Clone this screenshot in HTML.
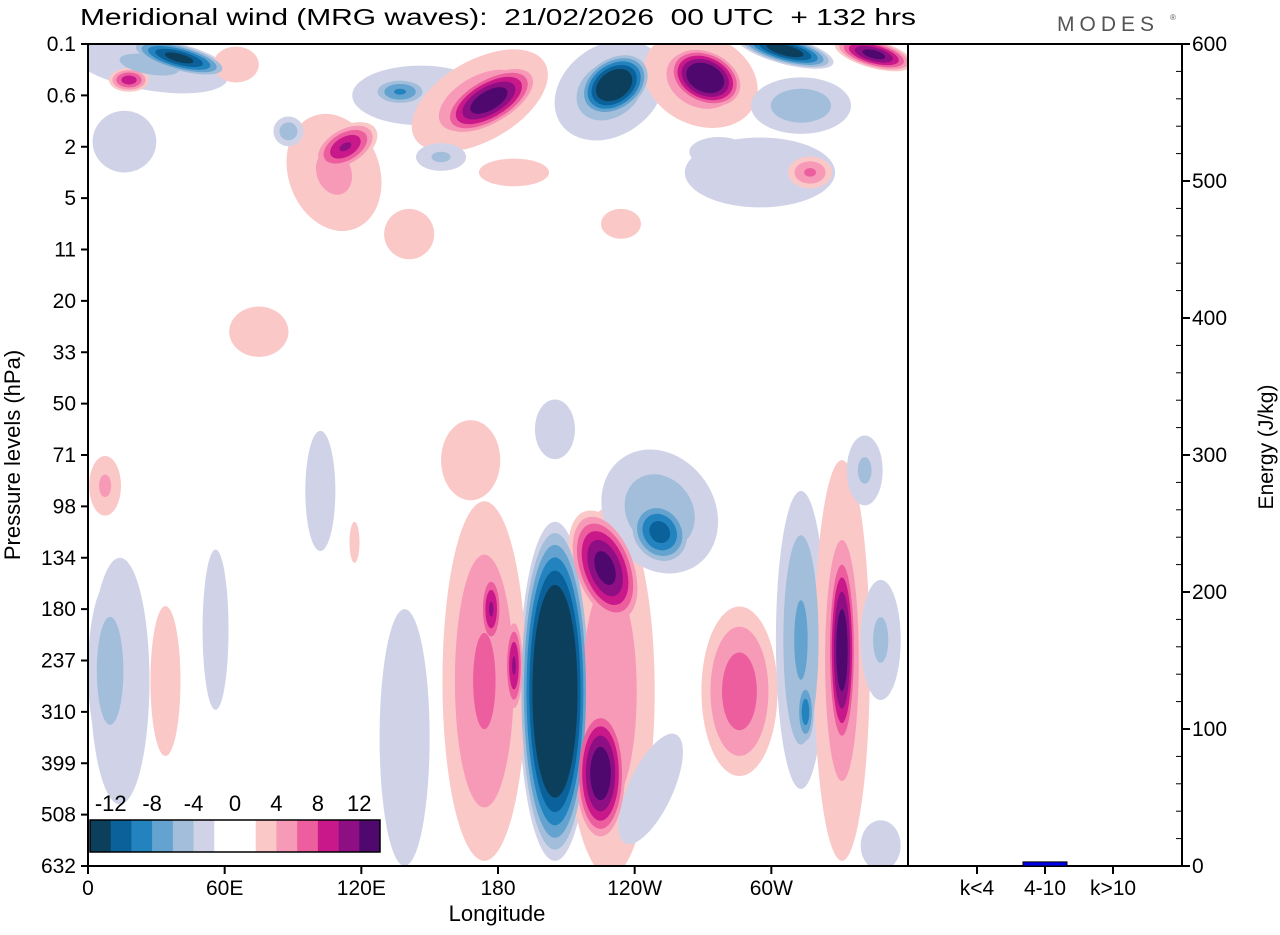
<!DOCTYPE html>
<html><head><meta charset="utf-8"><style>
body{margin:0;background:#fff;}
svg text{font-family:"Liberation Sans",sans-serif;fill:#000;}
</style></head><body>
<svg id="chart" width="1280" height="930" viewBox="0 0 1280 930" xmlns="http://www.w3.org/2000/svg">
<defs><clipPath id="pc"><rect x="88" y="44" width="820" height="822"/></clipPath></defs>
<text x="80" y="25" font-size="23" textLength="836" lengthAdjust="spacingAndGlyphs" style="white-space:pre">Meridional wind (MRG waves):  21/02/2026  00 UTC  + 132 hrs</text>
<text x="1057" y="31" font-size="21" letter-spacing="5" style="fill:#555">MODES</text>
<text x="1170" y="20" font-size="8" style="fill:#555">®</text>
<g id="field" clip-path="url(#pc)"></g>
<g id="axes"></g>
<text transform="translate(20,455) rotate(-90)" text-anchor="middle" font-size="22">Pressure levels (hPa)</text>
<text x="497" y="921" text-anchor="middle" font-size="22">Longitude</text>
<text transform="translate(1273,447) rotate(-90)" text-anchor="middle" font-size="21">Energy (J/kg)</text>
</svg>
<script>
const levelLabels=["0.1","0.6","2","5","11","20","33","50","71","98","134","180","237","310","399","508","632"];
const lonTicks=[0,60,120,180,240,300];
const lonLabels=["0","60E","120E","180","120W","60W"];
const energyTicks=[0,100,200,300,400,500,600];
const energyCats=["k<4","4-10","k>10"];
const energyVals=[0.3,3,0.3];
const cbLabels=["-12","-8","-4","0","4","8","12"];
const blobLon=[205,227,225,229,174,177,187,139,251,251,313,315,331,331,286,348,341,9.7,34,7.5,56,168,102,205,40,27,18,16,137,146,176,172,231,229,271,269,306,345,313,295,113,108,88,155,187,317,141,234,75,247,348,277,14,117,65];
const blobLev=[12.6,10.2,14.2,12.6,12.4,11.0,12.1,13.5,9.5,9.1,11.6,13.0,11.8,12.0,12.6,11.6,8.3,12.2,12.4,8.6,11.4,8.1,8.7,7.5,0.27,0.4,0.7,1.9,0.93,1.0,1.1,1.1,0.8,0.9,0.66,0.7,0.12,0.2,1.2,2.5,2.0,2.5,1.7,2.2,2.5,2.5,3.7,3.5,5.6,14.5,15.6,2.1,12.4,9.7,0.4];
const blobAmp=[-20,13,14,5,6,10,10,-3,-11,-5,-6,-9,14,5,7,-4,-4,-5,3,4,-2.5,3,-2.5,-2.5,-13,-4,9,-3,-8,-3,14,5,-16,-5,16,5,-14,13,-5,-2.5,10,4,-5,-4,3,6,3,3,3,-3,-2.5,-3,-2.5,2.5,3];
const blobWid=[15.8,14,11.9,19.8,18.4,5.3,4.4,11,13,24,11,4.4,6.6,12.3,16.7,8.8,7.9,9.7,6.6,7,5.7,13,6.6,8.8,22,35,8.8,14,12.3,30,24,33,17.6,26,17.6,26,22,17.6,22,33,15.4,20,6.6,11,15.4,9.7,11,8.8,13,9.7,8.8,13,13,2.2,10];
const blobHgt=[3.3,1.17,1.36,3.6,3.5,0.78,0.97,2.5,0.68,1.27,2.9,0.68,2.1,3.9,1.65,1.17,0.68,1.75,1.46,0.58,1.56,0.78,1.17,0.58,0.27,0.5,0.23,0.6,0.27,0.58,0.49,0.78,0.55,0.88,0.55,0.88,0.27,0.27,0.55,0.68,0.39,1.17,0.29,0.27,0.27,0.31,0.49,0.29,0.49,1.17,0.49,0.29,2.4,0.4,0.35];
const blobRot=[0,-20,0,0,0,0,0,0,-35,-35,0,0,0,0,0,0,0,0,0,0,0,0,0,0,15,10,0,0,0,0,-30,-30,-35,-35,25,25,15,15,0,0,-30,-20,0,0,0,0,0,0,0,25,0,0,0,0,0];
const negCol=["#d0d3e7","#a3bedb","#64a3cf","#2383bf","#0b6199","#0c3f5c"];
const posCol=["#fbc8c8","#f79ab8","#ec5e9e","#c8188a","#8e0f84","#4f086e"];
const NS="http://www.w3.org/2000/svg";
const X0=88,X1=908,Y0=44,Y1=866;
const xScale=l=>X0+l*(X1-X0)/360;
const yScale=i=>Y0+i*(Y1-Y0)/16;
const eScale=v=>Y1-v*(Y1-Y0)/600;
const catX=i=>977+i*68;
function mk(tag,attrs,parent){const e=document.createElementNS(NS,tag);for(const k in attrs)e.setAttribute(k,attrs[k]);parent.appendChild(e);return e;}
const field=document.getElementById('field');
const axes=document.getElementById('axes');
mk('rect',{x:X0,y:Y0,width:820,height:822,fill:'#fff'},field);
for(let t=2;t<=12;t+=2){
  for(let b=0;b<blobLon.length;b++){
    const a=Math.abs(blobAmp[b]);
    if(a<t)continue;
    const f=Math.pow((a-t+0.5)/(a-1.5),0.6);
    const cx=xScale(blobLon[b]),cy=yScale(blobLev[b]);
    const rx=blobWid[b]*(X1-X0)/360*f,ry=blobHgt[b]*(Y1-Y0)/16*f;
    const col=blobAmp[b]<0?negCol[t/2-1]:posCol[t/2-1];
    const e=mk('ellipse',{cx:cx,cy:cy,rx:rx,ry:ry,fill:col,transform:`rotate(${blobRot[b]} ${cx} ${cy})`},field);
    
    
  }
}
mk('rect',{x:X0,y:Y0,width:820,height:822,fill:'none',stroke:'#000','stroke-width':2},axes);
mk('rect',{x:908,y:Y0,width:274,height:822,fill:'none',stroke:'#000','stroke-width':2},axes);
levelLabels.forEach((l,i)=>{
  const y=yScale(i);
  mk('line',{x1:X0-7,x2:X0,y1:y,y2:y,stroke:'#000','stroke-width':2},axes);
  const t=mk('text',{x:X0-12,y:y+7,'text-anchor':'end','font-size':21},axes);t.textContent=l;
  
  
});
lonTicks.forEach((l,i)=>{
  const x=xScale(l);
  mk('line',{x1:x,x2:x,y1:Y1,y2:Y1+8,stroke:'#000','stroke-width':2},axes);
  const t=mk('text',{x:x,y:Y1+29,'text-anchor':'middle','font-size':21},axes);t.textContent=lonLabels[i];
  
  
});
for(let v=0;v<=600;v+=20){
  const y=eScale(v);
  if(v%100===0){
    mk('line',{x1:1182,x2:1190,y1:y,y2:y,stroke:'#000','stroke-width':2},axes);
    const t=mk('text',{x:1192,y:y+7,'font-size':21},axes);t.textContent=v;
    
    
  } else mk('line',{x1:1176,x2:1182,y1:y,y2:y,stroke:'#000','stroke-width':1},axes);
}
energyCats.forEach((c,i)=>{
  const x=catX(i);
  mk('line',{x1:x,x2:x,y1:Y1,y2:Y1+8,stroke:'#000','stroke-width':2},axes);
  const t=mk('text',{x:x,y:Y1+29,'text-anchor':'middle','font-size':21},axes);t.textContent=c;
  
  
  const h=Y1-eScale(energyVals[i]);
  const r=mk('rect',{x:x-22,y:Y1-h,width:44,height:h,fill:'#0000ee',stroke:'#000','stroke-width':1},axes);
  
  
});
const cbCols=[...negCol].reverse().concat(["#fff","#fff"],posCol);
const cbw=290/14;
cbCols.forEach((c,i)=>{
  const r=mk('rect',{x:90+i*cbw,y:820,width:cbw+0.3,height:32,fill:c},axes);
  
  
});
mk('rect',{x:90,y:820,width:290,height:32,fill:'none',stroke:'#000','stroke-width':1.5},axes);
cbLabels.forEach((l,i)=>{
  const t=mk('text',{x:90+(i*2+1)*cbw,y:811,'text-anchor':'middle','font-size':22},axes);t.textContent=l;
  
  
});
</script>
</body></html>
